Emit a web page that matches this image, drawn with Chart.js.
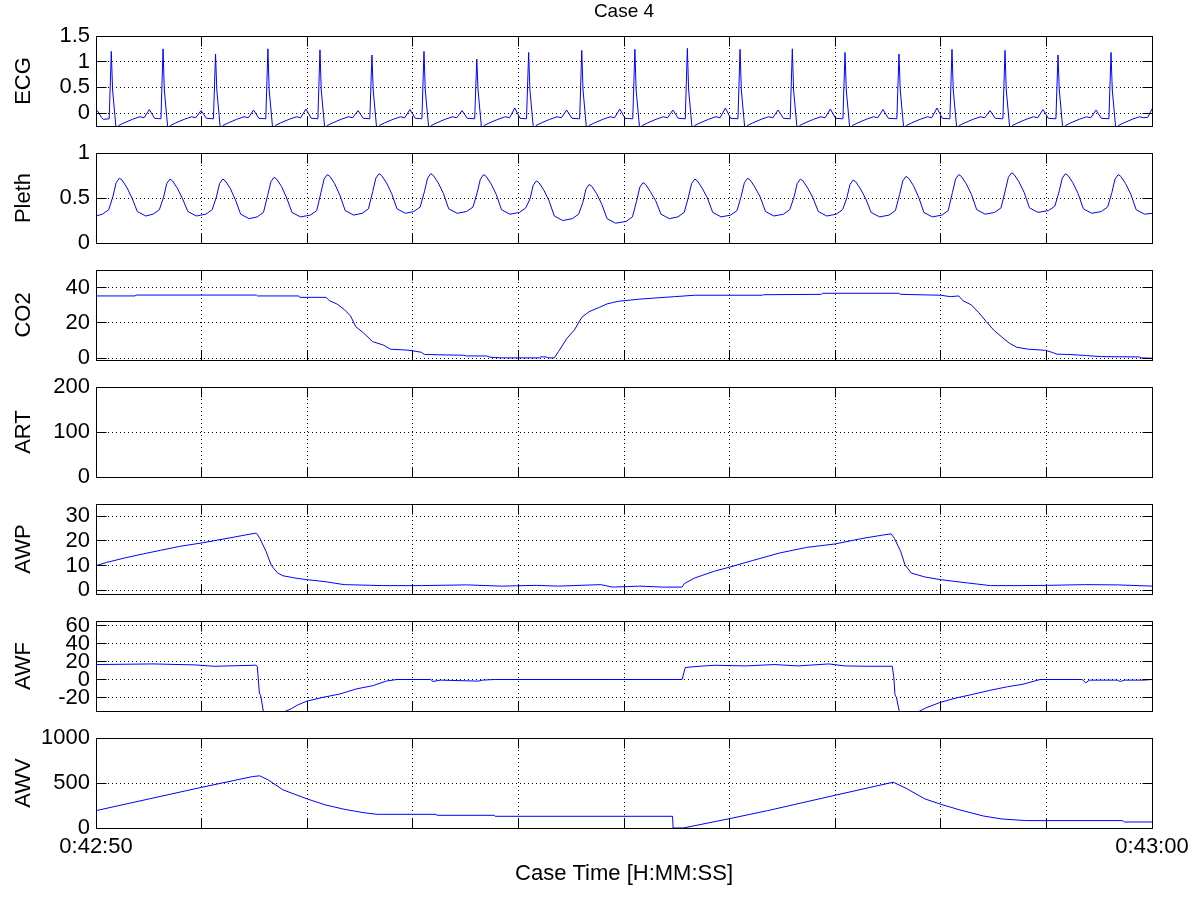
<!DOCTYPE html>
<html>
<head>
<meta charset="utf-8">
<script src="https://cdn.jsdelivr.net/npm/chart.js@4.4.0/dist/chart.umd.min.js"></script>
<style>
  body { margin: 0; background: #fff; }
  #wrap { position: relative; width: 1200px; height: 900px; overflow: hidden; }
</style>
</head>
<body>
<div id="wrap"></div>
<script>
// Textos
const chartTitle = "Case 4";
const xTitle = "Case Time [H:MM:SS]";
const xTickValues = [0, 1, 2, 3, 4, 5, 6, 7, 8, 9, 10];
const xTickLabels = ["0:42:50", "0:43:00"];

// ECG (segundos desde 0:42:50)
const ecgTime = [
  0, 0.02, 0.05, 0.07,
  0.125, 0.145, 0.157, 0.19, 0.215, 0.265, 0.345, 0.415, 0.455, 0.505, 0.555,
  0.615, 0.635, 0.647, 0.68, 0.705, 0.755, 0.835, 0.905, 0.945, 0.995, 1.045,
  1.112, 1.132, 1.144, 1.177, 1.202, 1.252, 1.332, 1.402, 1.442, 1.492, 1.542,
  1.608, 1.628, 1.64, 1.673, 1.698, 1.748, 1.828, 1.898, 1.938, 1.988, 2.038,
  2.101, 2.121, 2.133, 2.166, 2.191, 2.241, 2.321, 2.391, 2.431, 2.481, 2.531,
  2.593, 2.613, 2.625, 2.658, 2.683, 2.733, 2.813, 2.883, 2.923, 2.973, 3.023,
  3.086, 3.106, 3.118, 3.151, 3.176, 3.226, 3.306, 3.376, 3.416, 3.466, 3.516,
  3.586, 3.606, 3.618, 3.651, 3.676, 3.726, 3.806, 3.876, 3.916, 3.966, 4.016,
  4.077, 4.097, 4.109, 4.142, 4.167, 4.217, 4.297, 4.367, 4.407, 4.457, 4.507,
  4.58, 4.6, 4.612, 4.645, 4.67, 4.72, 4.8, 4.87, 4.91, 4.96, 5.01,
  5.083, 5.103, 5.115, 5.148, 5.173, 5.223, 5.303, 5.373, 5.413, 5.463, 5.513,
  5.58, 5.6, 5.612, 5.645, 5.67, 5.72, 5.8, 5.87, 5.91, 5.96, 6.01,
  6.079, 6.099, 6.111, 6.144, 6.169, 6.219, 6.299, 6.369, 6.409, 6.459, 6.509,
  6.574, 6.594, 6.606, 6.639, 6.664, 6.714, 6.794, 6.864, 6.904, 6.954, 7.004,
  7.073, 7.093, 7.105, 7.138, 7.163, 7.213, 7.293, 7.363, 7.403, 7.453, 7.503,
  7.584, 7.604, 7.616, 7.649, 7.674, 7.724, 7.804, 7.874, 7.914, 7.964, 8.014,
  8.086, 8.106, 8.118, 8.151, 8.176, 8.226, 8.306, 8.376, 8.416, 8.466, 8.516,
  8.588, 8.608, 8.62, 8.653, 8.678, 8.728, 8.808, 8.878, 8.918, 8.968, 9.018,
  9.09, 9.11, 9.122, 9.155, 9.18, 9.23, 9.31, 9.38, 9.42, 9.47, 9.52,
  9.592, 9.612, 9.624, 9.657, 9.682, 9.732, 9.812, 9.882, 9.922, 9.96, 10.0
];
const ecgValue = [
  0.05, 0.03, -0.08, -0.12,
  -0.11, 1.20, 0.45, -0.3, -0.24, -0.19, -0.12, -0.07, -0.09, 0.07, -0.10,
  -0.11, 1.25, 0.45, -0.3, -0.24, -0.19, -0.12, -0.07, -0.09, 0.05, -0.10,
  -0.11, 1.15, 0.45, -0.3, -0.24, -0.19, -0.12, -0.07, -0.09, 0.06, -0.10,
  -0.11, 1.25, 0.45, -0.3, -0.24, -0.19, -0.12, -0.07, -0.09, 0.08, -0.10,
  -0.11, 1.23, 0.45, -0.3, -0.24, -0.19, -0.12, -0.07, -0.09, 0.05, -0.10,
  -0.11, 1.13, 0.45, -0.3, -0.24, -0.19, -0.12, -0.07, -0.09, 0.07, -0.10,
  -0.11, 1.20, 0.45, -0.3, -0.24, -0.19, -0.12, -0.07, -0.09, 0.05, -0.10,
  -0.11, 1.05, 0.45, -0.3, -0.24, -0.19, -0.12, -0.07, -0.09, 0.10, -0.10,
  -0.11, 1.18, 0.45, -0.3, -0.24, -0.19, -0.12, -0.07, -0.09, 0.06, -0.10,
  -0.11, 1.22, 0.45, -0.3, -0.24, -0.19, -0.12, -0.07, -0.09, 0.08, -0.10,
  -0.11, 1.24, 0.45, -0.3, -0.24, -0.19, -0.12, -0.07, -0.09, 0.06, -0.10,
  -0.11, 1.26, 0.45, -0.3, -0.24, -0.19, -0.12, -0.07, -0.09, 0.10, -0.10,
  -0.11, 1.24, 0.45, -0.3, -0.24, -0.19, -0.12, -0.07, -0.09, 0.06, -0.10,
  -0.11, 1.25, 0.45, -0.3, -0.24, -0.19, -0.12, -0.07, -0.09, 0.08, -0.10,
  -0.11, 1.18, 0.45, -0.3, -0.24, -0.19, -0.12, -0.07, -0.09, 0.07, -0.10,
  -0.11, 1.15, 0.45, -0.3, -0.24, -0.19, -0.12, -0.07, -0.09, 0.10, -0.10,
  -0.11, 1.24, 0.45, -0.3, -0.24, -0.19, -0.12, -0.07, -0.09, 0.05, -0.10,
  -0.11, 1.22, 0.45, -0.3, -0.24, -0.19, -0.12, -0.07, -0.09, 0.07, -0.10,
  -0.11, 1.13, 0.45, -0.3, -0.24, -0.19, -0.12, -0.07, -0.09, 0.06, -0.10,
  -0.11, 1.18, 0.45, -0.3, -0.24, -0.19, -0.12, -0.07, -0.09, -0.08, 0.08
];
const ecgTicks = [0, 0.5, 1, 1.5];
const ecgTickLabels = ["0", "0.5", "1", "1.5"];

// Pleth
const plethTime = [
  0, 0.061, 0.121, 0.161, 0.191, 0.221, 0.246, 0.291, 0.341, 0.391, 0.471,
  0.54, 0.60, 0.64, 0.67, 0.70, 0.725, 0.77, 0.82, 0.87, 0.95,
  1.04, 1.10, 1.14, 1.17, 1.20, 1.225, 1.27, 1.32, 1.37, 1.45,
  1.526, 1.586, 1.626, 1.656, 1.686, 1.711, 1.756, 1.806, 1.856, 1.936,
  2.03, 2.09, 2.13, 2.16, 2.19, 2.215, 2.26, 2.31, 2.36, 2.44,
  2.52, 2.58, 2.62, 2.65, 2.68, 2.705, 2.75, 2.80, 2.85, 2.93,
  3.01, 3.07, 3.11, 3.14, 3.17, 3.195, 3.24, 3.29, 3.34, 3.42,
  3.51, 3.57, 3.61, 3.64, 3.67, 3.695, 3.74, 3.79, 3.84, 3.92,
  4.01, 4.07, 4.11, 4.14, 4.17, 4.195, 4.24, 4.29, 4.34, 4.42,
  4.51, 4.57, 4.61, 4.64, 4.67, 4.695, 4.74, 4.79, 4.84, 4.92,
  5.02, 5.08, 5.12, 5.15, 5.18, 5.205, 5.25, 5.30, 5.35, 5.43,
  5.51, 5.57, 5.61, 5.64, 5.67, 5.695, 5.74, 5.79, 5.84, 5.92,
  6.01, 6.07, 6.11, 6.14, 6.17, 6.195, 6.24, 6.29, 6.34, 6.42,
  6.51, 6.57, 6.61, 6.64, 6.67, 6.695, 6.74, 6.79, 6.84, 6.92,
  7.01, 7.07, 7.11, 7.14, 7.17, 7.195, 7.24, 7.29, 7.34, 7.42,
  7.51, 7.57, 7.61, 7.64, 7.67, 7.695, 7.74, 7.79, 7.84, 7.92,
  8.01, 8.07, 8.11, 8.14, 8.17, 8.195, 8.24, 8.29, 8.34, 8.42,
  8.51, 8.57, 8.61, 8.64, 8.67, 8.695, 8.74, 8.79, 8.84, 8.92,
  9.02, 9.08, 9.12, 9.15, 9.18, 9.205, 9.25, 9.30, 9.35, 9.43,
  9.52, 9.58, 9.62, 9.65, 9.68, 9.705, 9.75, 9.80, 9.85, 9.93, 10.0
];
const plethValue = [
  0.30, 0.32, 0.37, 0.52, 0.67, 0.72, 0.70, 0.62, 0.50, 0.35, 0.30,
  0.32, 0.37, 0.51, 0.66, 0.71, 0.69, 0.61, 0.49, 0.35, 0.30,
  0.32, 0.37, 0.51, 0.66, 0.71, 0.69, 0.61, 0.48, 0.32, 0.27,
  0.29, 0.34, 0.53, 0.68, 0.73, 0.71, 0.63, 0.50, 0.34, 0.29,
  0.31, 0.36, 0.56, 0.71, 0.76, 0.74, 0.66, 0.53, 0.36, 0.31,
  0.33, 0.38, 0.57, 0.72, 0.77, 0.75, 0.67, 0.55, 0.38, 0.33,
  0.35, 0.40, 0.57, 0.72, 0.77, 0.75, 0.67, 0.55, 0.38, 0.33,
  0.35, 0.40, 0.56, 0.71, 0.76, 0.74, 0.66, 0.54, 0.37, 0.32,
  0.34, 0.39, 0.49, 0.64, 0.69, 0.67, 0.59, 0.47, 0.30, 0.25,
  0.27, 0.32, 0.45, 0.60, 0.65, 0.63, 0.55, 0.43, 0.27, 0.22,
  0.24, 0.29, 0.47, 0.62, 0.67, 0.65, 0.57, 0.47, 0.32, 0.27,
  0.29, 0.34, 0.51, 0.66, 0.71, 0.69, 0.61, 0.50, 0.34, 0.29,
  0.31, 0.36, 0.52, 0.67, 0.72, 0.70, 0.62, 0.51, 0.35, 0.30,
  0.32, 0.37, 0.51, 0.66, 0.71, 0.69, 0.61, 0.50, 0.35, 0.30,
  0.32, 0.37, 0.50, 0.65, 0.70, 0.68, 0.60, 0.49, 0.34, 0.29,
  0.31, 0.36, 0.54, 0.69, 0.74, 0.72, 0.64, 0.51, 0.34, 0.29,
  0.31, 0.36, 0.56, 0.71, 0.76, 0.74, 0.66, 0.54, 0.37, 0.32,
  0.34, 0.39, 0.58, 0.73, 0.78, 0.76, 0.68, 0.56, 0.39, 0.34,
  0.36, 0.41, 0.57, 0.72, 0.77, 0.75, 0.67, 0.55, 0.38, 0.33,
  0.35, 0.40, 0.56, 0.71, 0.76, 0.74, 0.66, 0.54, 0.37, 0.32, 0.33
];
const plethTicks = [0, 0.5, 1];
const plethTickLabels = ["0", "0.5", "1"];

// CO2
const co2Time = [
  0, 0.37, 0.38, 1.52, 1.53, 1.92, 1.93, 2.18, 2.21, 2.28, 2.35, 2.41, 2.46, 2.53,
  2.62, 2.72, 2.79, 2.93, 3.0, 3.08, 3.11, 3.48, 3.51, 3.70, 3.73, 3.84, 4.20, 4.21,
  4.26, 4.28, 4.34, 4.38, 4.46, 4.53, 4.60, 4.67, 4.77, 4.84, 4.89, 4.95, 5.0, 5.13,
  5.31, 5.48, 5.67, 6.31, 6.32, 6.87, 6.88, 7.60, 7.62, 8.0, 8.09, 8.17, 8.21, 8.29,
  8.36, 8.43, 8.50, 8.58, 8.65, 8.72, 8.83, 8.99, 9.06, 9.10, 9.23, 9.38, 9.52, 9.88,
  9.90, 10.0
];
const co2Value = [
  35.3, 35.3, 35.8, 35.8, 35.3, 35.3, 34.5, 34.5, 32.6, 30.8, 27.7, 24, 17.9, 14.5,
  9.4, 7.5, 5.1, 4.7, 4.2, 3.4, 2.1, 1.7, 1.3, 1.3, 0.6, 0.2, 0.2, 0.75,
  0.75, 0.2, 0.2, 3.8, 11.3, 16, 23.2, 26.4, 28.9, 30.8, 31.5, 32.3, 32.6, 33.4,
  34.2, 34.9, 35.7, 35.7, 36, 36.2, 36.8, 36.8, 36.2, 35.7, 34.9, 35.3, 32.6, 30.2,
  25.8, 20.8, 16, 11.9, 8.5, 6.2, 5.1, 4.5, 3.2, 2.3, 2.1, 1.5, 0.9, 0.75,
  0.2, 0
];
const co2Ticks = [0, 20, 40];
const co2TickLabels = ["0", "20", "40"];

// ART (sin datos en este tramo)
const artTime = [];
const artValue = [];
const artTicks = [0, 100, 200];
const artTickLabels = ["0", "100", "200"];

// AWP
const awpTime = [
  0, 0.1, 0.28, 0.45, 0.61, 0.79, 1.0, 1.26, 1.50, 1.52, 1.55, 1.61, 1.66, 1.72,
  1.77, 1.88, 2.0, 2.17, 2.35, 2.72, 3.08, 3.51, 3.84, 4.17, 4.38, 4.78, 4.89, 5.15,
  5.37, 5.55, 5.57, 5.67, 5.86, 6.0, 6.22, 6.47, 6.73, 7.0, 7.24, 7.45, 7.53, 7.56,
  7.62, 7.66, 7.72, 7.85, 8.0, 8.25, 8.47, 8.76, 9.01, 9.36, 9.67, 10.0
];
const awpValue = [
  10, 11.3, 13.2, 14.8, 16.2, 17.8, 19.2, 21.2, 23.1, 23.1, 21.2, 15.8, 10.1, 7.0,
  5.9, 5.0, 4.3, 3.5, 2.3, 1.9, 1.9, 2.2, 1.7, 2.0, 1.7, 2.3, 1.3, 1.7,
  1.3, 1.3, 2.7, 5.0, 7.8, 9.4, 12.1, 15.1, 17.4, 18.8, 20.9, 22.4, 22.9, 21.1,
  15.8, 10.4, 7.0, 5.4, 4.3, 3.0, 1.9, 1.9, 2.0, 2.3, 2.2, 1.7
];
const awpTicks = [0, 10, 20, 30];
const awpTickLabels = ["0", "10", "20", "30"];

// AWF
const awfTime = [
  0, 0.54, 0.94, 1.12, 1.50, 1.515, 1.528, 1.547, 1.56, 1.585, 1.68, 1.80, 1.85, 1.91,
  2.0, 2.15, 2.31, 2.46, 2.62, 2.75, 2.85, 3.17, 3.19, 3.26, 3.62, 3.66, 3.77, 4.78,
  5.55, 5.58, 5.71, 5.86, 6.16, 6.42, 6.65, 6.94, 7.09, 7.31, 7.54, 7.555, 7.566, 7.58,
  7.607, 7.70, 7.80, 7.86, 7.99, 8.15, 8.31, 8.47, 8.63, 8.78, 8.94, 9.34, 9.37, 9.41,
  9.67, 9.70, 9.74, 9.92, 10.0
];
const awfValue = [
  16.6, 17.3, 16.2, 14.7, 15.8, 16.1, 14.3, -15, -18, -35.5, -42, -35, -32.4, -28.3,
  -23.9, -19.8, -16.1, -10.6, -6.9, -1.7, 0, 0, -2.2, -0.7, -1.8, -0.7, 0, 0,
  0, 13.3, 14.7, 15.8, 15.1, 16.6, 15.1, 17.3, 15.1, 14.7, 14.7, 2.9, -17, -20,
  -35.5, -42, -35, -31.5, -25.6, -20.4, -16.3, -11.9, -8.1, -5.2, 0, 0, -3.7, -0.7,
  -0.7, -2.2, -0.7, -0.7, 0
];
const awfTicks = [-20, 0, 20, 40, 60];
const awfTickLabels = ["-20", "0", "20", "40", "60"];

// AWV
const awvTime = [
  0, 1.0, 1.48, 1.55, 1.63, 1.77, 2.0, 2.17, 2.35, 2.53, 2.66, 3.22, 3.23, 3.77,
  3.78, 5.46, 5.465, 5.56, 5.67, 6.0, 6.36, 7.0, 7.55, 7.67, 7.85, 8.0, 8.18, 8.40,
  8.58, 8.81, 9.72, 9.74, 10.0
];
const awvValue = [
  193, 452, 571, 580, 535, 424, 323, 257, 208, 171, 152, 152, 141, 141,
  130, 130, 0, 0, 26, 104, 193, 364, 509, 442, 323, 264, 201, 134,
  100, 82, 82, 67, 67
];
const awvTicks = [0, 500, 1000];
const awvTickLabels = ["0", "500", "1000"];

const panels = [
  { label: "ECG", time: ecgTime, value: ecgValue, min: -0.25, max: 1.5, ticks: ecgTicks, tickLabels: ecgTickLabels },
  { label: "Pleth", time: plethTime, value: plethValue, min: 0, max: 1, ticks: plethTicks, tickLabels: plethTickLabels },
  { label: "CO2", time: co2Time, value: co2Value, min: -1, max: 50, ticks: co2Ticks, tickLabels: co2TickLabels },
  { label: "ART", time: artTime, value: artValue, min: 0, max: 200, ticks: artTicks, tickLabels: artTickLabels },
  { label: "AWP", time: awpTime, value: awpValue, min: -1.5, max: 35, ticks: awpTicks, tickLabels: awpTickLabels },
  { label: "AWF", time: awfTime, value: awfValue, min: -35, max: 65, ticks: awfTicks, tickLabels: awfTickLabels },
  { label: "AWV", time: awvTime, value: awvValue, min: 0, max: 1000, ticks: awvTicks, tickLabels: awvTickLabels }
];

// layout
const plotTops = [36, 153, 270, 387, 504, 621, 738];
const plotHeight = 90;
const fontSize = 22;

Chart.defaults.font.family = "'Liberation Sans', Arial, Helvetica, sans-serif";
Chart.defaults.color = "#000";

// caja y marcas de tick estilo MATLAB
const alignPx = (p) => Math.round(p - 0.5) + 0.5;
const matlabBox = {
  id: "matlabBox",
  afterDraw(chart) {
    const { ctx, chartArea: a } = chart;
    const xs = chart.scales.x;
    const ys = chart.scales.y;
    const l = alignPx(a.left), r = alignPx(a.right);
    const t = alignPx(a.top), b = alignPx(a.bottom);
    ctx.save();
    ctx.strokeStyle = "#000";
    ctx.lineWidth = 1;
    ctx.setLineDash([]);
    ctx.strokeRect(l, t, r - l, b - t);
    ctx.beginPath();
    xs.ticks.forEach((tk) => {
      const px = alignPx(xs.getPixelForValue(tk.value));
      ctx.moveTo(px, t); ctx.lineTo(px, t + 10);
      ctx.moveTo(px, b); ctx.lineTo(px, b - 10);
    });
    ys.ticks.forEach((tk) => {
      const py = alignPx(ys.getPixelForValue(tk.value));
      ctx.moveTo(l, py); ctx.lineTo(l + 10, py);
      ctx.moveTo(r, py); ctx.lineTo(r - 10, py);
    });
    ctx.stroke();
    ctx.restore();
  }
};

const wrap = document.getElementById("wrap");

panels.forEach((p, i) => {
  const first = i === 0;
  const last = i === panels.length - 1;
  const titleH = first ? 36 : 0;
  const padTop = first ? 0 : 20;
  const axisH = last ? 72 : 0;
  const padBottom = last ? 0 : 20;
  const h = titleH + padTop + plotHeight + axisH + padBottom;
  const top = plotTops[i] - padTop - titleH;

  const canvas = document.createElement("canvas");
  canvas.width = 1200;
  canvas.height = h;
  canvas.style.cssText = `position:absolute;left:0;top:${top}px;width:1200px;height:${h}px;`;
  wrap.appendChild(canvas);

  const points = p.time.map((t, k) => ({ x: t, y: p.value[k] }));

  new Chart(canvas, {
    type: "line",
    data: {
      datasets: [{
        data: points,
        borderColor: "#0000ff",
        borderWidth: 1,
        pointRadius: 0,
        tension: 0,
        fill: false
      }]
    },
    options: {
      responsive: false,
      animation: false,
      devicePixelRatio: 1,
      events: [],
      parsing: false,
      layout: { padding: { left: 0, right: 48, top: padTop, bottom: padBottom } },
      plugins: {
        legend: { display: false },
        tooltip: { enabled: false },
        title: {
          display: first,
          text: chartTitle,
          fullSize: false,
          color: "#000",
          font: { size: 19, weight: "normal" },
          padding: { top: 0.6, bottom: 12.6 }
        }
      },
      scales: {
        x: {
          type: "linear",
          min: 0,
          max: 10,
          afterBuildTicks: (s) => { s.ticks = xTickValues.map((v) => ({ value: v })); },
          afterFit: (s) => { s.height = axisH; },
          grid: { color: "#000", lineWidth: 1, drawTicks: false },
          border: { display: false, dash: [1, 3] },
          ticks: {
            display: last,
            autoSkip: false,
            maxRotation: 0,
            padding: 6,
            color: "#000",
            font: { size: fontSize },
            callback: (v) => (v === 0 ? xTickLabels[0] : v === 10 ? xTickLabels[1] : "")
          },
          title: {
            display: last,
            text: xTitle,
            color: "#000",
            font: { size: fontSize },
            padding: { top: 0, bottom: 13 }
          }
        },
        y: {
          type: "linear",
          min: p.min,
          max: p.max,
          afterBuildTicks: (s) => { s.ticks = p.ticks.map((v) => ({ value: v })); },
          afterFit: (s) => { s.width = 96; },
          grid: { color: "#000", lineWidth: 1, drawTicks: false },
          border: { display: false, dash: [1, 3] },
          ticks: {
            autoSkip: false,
            padding: 6,
            color: "#000",
            font: { size: fontSize },
            callback: (v, idx) => p.tickLabels[idx]
          },
          title: {
            display: true,
            text: p.label,
            color: "#000",
            font: { size: fontSize },
            padding: { top: 11, bottom: 0 }
          }
        }
      }
    },
    plugins: [matlabBox]
  });
});
</script>
</body>
</html>
